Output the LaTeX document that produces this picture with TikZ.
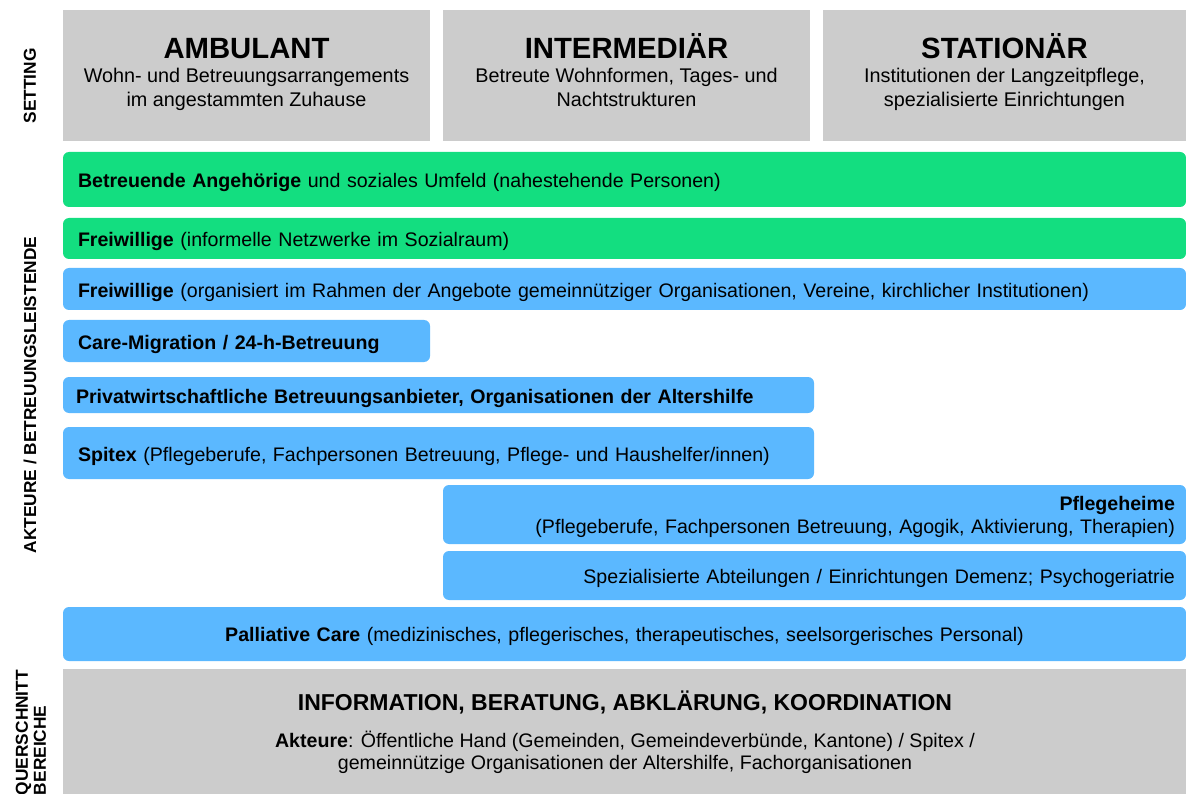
\documentclass[tikz,border=0pt]{standalone}
\usepackage{fontspec}
\setmainfont{Liberation Sans}
\definecolor{grn}{HTML}{13DE80}
\definecolor{blu}{HTML}{5BB8FF}
\definecolor{gry}{HTML}{CCCCCC}
\newcommand\upstrut{\rule{0pt}{20.5pt}}
\begin{document}
\begin{tikzpicture}[x=1pt,y=-1pt,
  every node/.style={inner sep=0pt, outer sep=0pt},
  bodyfont/.style={font=\fontsize{19.6}{24}\selectfont},
  headfont/.style={font=\fontsize{19.8}{24}\selectfont},
  headbox/.style={fill=gry, anchor=north west, minimum height=131pt},
  headtext/.style={align=center, anchor=base, headfont},
  bar/.style={rounded corners=6pt, anchor=north west, inner xsep=15pt, bodyfont},
  greenbar/.style={bar, fill=grn},
  bluebar/.style={bar, fill=blu},
  sidelabel/.style={rotate=90, font=\fontsize{17.3}{18}\selectfont\bfseries, align=center}
]
\useasboundingbox (0,0) rectangle (1186,794);

% headers
\node[headbox, minimum width=367pt] (amb) at (63,10) {};
\node[headbox, minimum width=367pt] (int) at (443,10) {};
\node[headbox, minimum width=363pt] (sta) at (823,10) {};
\node[headtext] (ambt) at (246.5,106.5)
  {{\fontsize{29.3}{30}\selectfont\bfseries AMBULANT}\\Wohn- und Betreuungsarrangements\\im angestammten Zuhause};
\node[headtext] (intt) at (626.5,106.5)
  {{\fontsize{29.3}{30}\selectfont\bfseries INTERMEDIÄR}\\Betreute Wohnformen, Tages- und\\Nachtstrukturen};
\node[headtext] (stat) at (1004.5,106.5)
  {{\fontsize{29.3}{30}\selectfont\bfseries STATIONÄR}\\Institutionen der Langzeitpflege,\\spezialisierte Einrichtungen};

% bars
\node[greenbar, text width=1093pt, minimum height=55pt, align=left] (ang) at (63,152)
  {\upstrut\textbf{Betreuende Angehörige} und soziales Umfeld (nahestehende Personen)};
\node[greenbar, text width=1093pt, minimum height=41pt, align=left] (frei1) at (63,218)
  {\upstrut\textbf{Freiwillige} (informelle Netzwerke im Sozialraum)};
\node[bluebar, text width=1093pt, minimum height=42pt, align=left] (frei2) at (63,268)
  {\upstrut\textbf{Freiwillige} (organisiert im Rahmen der Angebote gemeinnütziger Organisationen, Vereine, kirchlicher Institutionen)};
\node[bluebar, text width=337pt, minimum height=42pt, align=left] (care) at (63,320)
  {\upstrut\textbf{Care-Migration / 24-h-Betreuung}};
\node[bluebar, inner xsep=13pt, text width=725pt, minimum height=36pt, align=left] (priv) at (63,377)
  {\upstrut\textbf{Privatwirtschaftliche Betreuungsanbieter, Organisationen der Altershilfe}};
\node[bluebar, text width=721pt, minimum height=52pt, align=left] (spitex) at (63,427)
  {\upstrut\textbf{Spitex} (Pflegeberufe, Fachpersonen Betreuung, Pflege- und Haushelfer/innen)};
\node[bluebar, inner xsep=11pt, text width=721pt, minimum height=59pt, align=right,
      font=\fontsize{19.6}{23}\selectfont] (heim) at (443,485)
  {\rule{0pt}{18.5pt}\textbf{Pflegeheime}\\(Pflegeberufe, Fachpersonen Betreuung, Agogik, Aktivierung, Therapien)};
\node[bluebar, inner xsep=11pt, text width=721pt, minimum height=49pt, align=right] (spez) at (443,551)
  {\upstrut Spezialisierte Abteilungen / Einrichtungen Demenz; Psychogeriatrie};
\node[bluebar, text width=1093pt, minimum height=54pt, align=center] (pall) at (63,607)
  {\rule{0pt}{18.5pt}\textbf{Palliative Care} (medizinisches, pflegerisches, therapeutisches, seelsorgerisches Personal)};

% bottom area
\node[fill=gry, anchor=north west, minimum width=1123pt, minimum height=125pt] (info) at (63,669) {};
\node[font=\fontsize{23}{24}\selectfont\bfseries, anchor=base] (infot) at (625,710)
  {INFORMATION, BERATUNG, ABKLÄRUNG, KOORDINATION};
\node[font=\fontsize{19.6}{22}\selectfont, align=center, anchor=base] (infoa) at (625,769)
  {\textbf{Akteure}: Öffentliche Hand (Gemeinden, Gemeindeverbünde, Kantone) / Spitex /\\gemeinnützige Organisationen der Altershilfe, Fachorganisationen};

% side labels
\node[sidelabel] (lset) at (30,86) {SETTING};
\node[sidelabel] (lakt) at (30,395) {AKTEURE / BETREUUNGSLEISTENDE};
\node[sidelabel, anchor=west, align=left] (lquer) at (31,795) {QUERSCHNITT\\BEREICHE};
\end{tikzpicture}
\end{document}
